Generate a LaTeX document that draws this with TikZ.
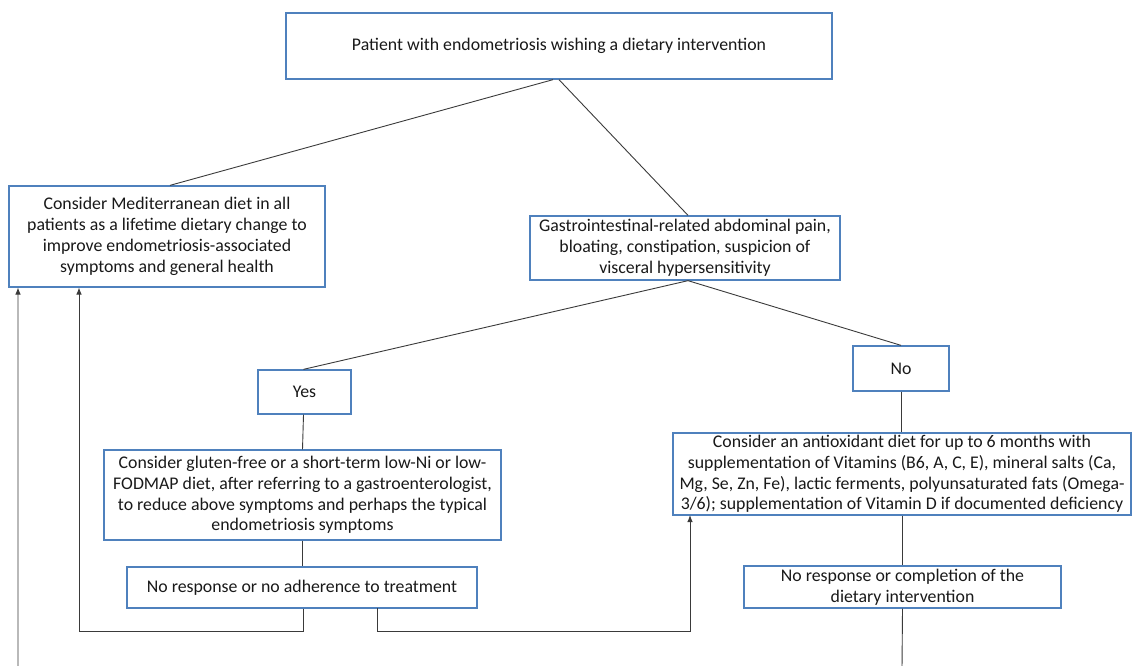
\documentclass[tikz,border=0pt]{standalone}
\usepackage{fontspec}
\setmainfont{Carlito}
\usetikzlibrary{arrows.meta,positioning,calc}
\definecolor{boxblue}{HTML}{4F81BD}
\definecolor{linegray}{HTML}{3A3A3A}
\tikzset{
  box/.style={draw=boxblue, line width=1.3pt, fill=white, align=center, inner sep=0pt,
    font=\fontsize{17.8}{20.8}\selectfont, text=black!90},
  conn/.style={draw=linegray, line width=0.9pt},
  arr/.style={conn, -{Latex[length=7pt,width=5.5pt]}}
}
\begin{document}
\begin{tikzpicture}[x=1pt,y=-1pt]
\useasboundingbox (0,0) rectangle (1132,665);
\node[box, minimum width=546pt, minimum height=66pt] (top) at (559,46) {Patient with endometriosis wishing a dietary intervention};
\node[box, minimum width=316pt, minimum height=101pt] (med) at (167,236.5) {Consider Mediterranean diet in all\\patients as a lifetime dietary change to\\improve endometriosis-associated\\symptoms and general health};
\node[box, minimum width=310pt, minimum height=64pt] (gi) at (685,248) {Gastrointestinal-related abdominal pain,\\bloating, constipation, suspicion of\\visceral hypersensitivity};
\node[box, minimum width=93pt, minimum height=44pt] (yes) at (304.5,392) {Yes};
\node[box, minimum width=96pt, minimum height=45pt] (no) at (901,368.5) {No};
\node[box, minimum width=397pt, minimum height=90pt] (glu) at (302.5,495) {Consider gluten-free or a short-term low-Ni or low-\\FODMAP diet, after referring to a gastroenterologist,\\to reduce above symptoms and perhaps the typical\\endometriosis symptoms};
\node[box, minimum width=458pt, minimum height=82pt] (anti) at (902,474) {Consider an antioxidant diet for up to 6 months with\\supplementation of Vitamins (B6, A, C, E), mineral salts (Ca,\\Mg, Se, Zn, Fe), lactic ferments, polyunsaturated fats (Omega-\\3/6); supplementation of Vitamin D if documented deficiency};
\node[box, minimum width=350pt, minimum height=41pt] (noadh) at (302,587.5) {No response or no adherence to treatment};
\node[box, minimum width=317pt, minimum height=42pt] (comp) at (902.5,587) {No response or completion of the\\dietary intervention};

\coordinate (bl) at (18,668);
\coordinate (br) at (902,668);

\draw[conn] ([xshift=-6pt]top.south) -- ([xshift=3pt]med.north);
\draw[conn] (top.south) -- ([xshift=3pt]gi.north);
\draw[conn] ([xshift=3pt]gi.south) -- ([xshift=-1pt]yes.north);
\draw[conn] ([xshift=3pt]gi.south) -- (no.north);
\draw[conn] ([xshift=-1pt]yes.south) -- (glu.south |- glu.north);
\draw[conn] (glu.south) -- (glu.south |- noadh.north);
\draw[conn] (no.south) -- (no.south |- anti.north);
\draw[conn] (anti.south) -- (anti.south |- comp.north);
\draw[arr] ([xshift=1pt]noadh.south) |- (79,631) -- (79,287.5);
\draw[arr] (377,608) |- (690,631) -- (690,515);
\draw[arr] (comp.south) -- (br) -- (bl) -- (18,287.5);
\end{tikzpicture}
\end{document}
